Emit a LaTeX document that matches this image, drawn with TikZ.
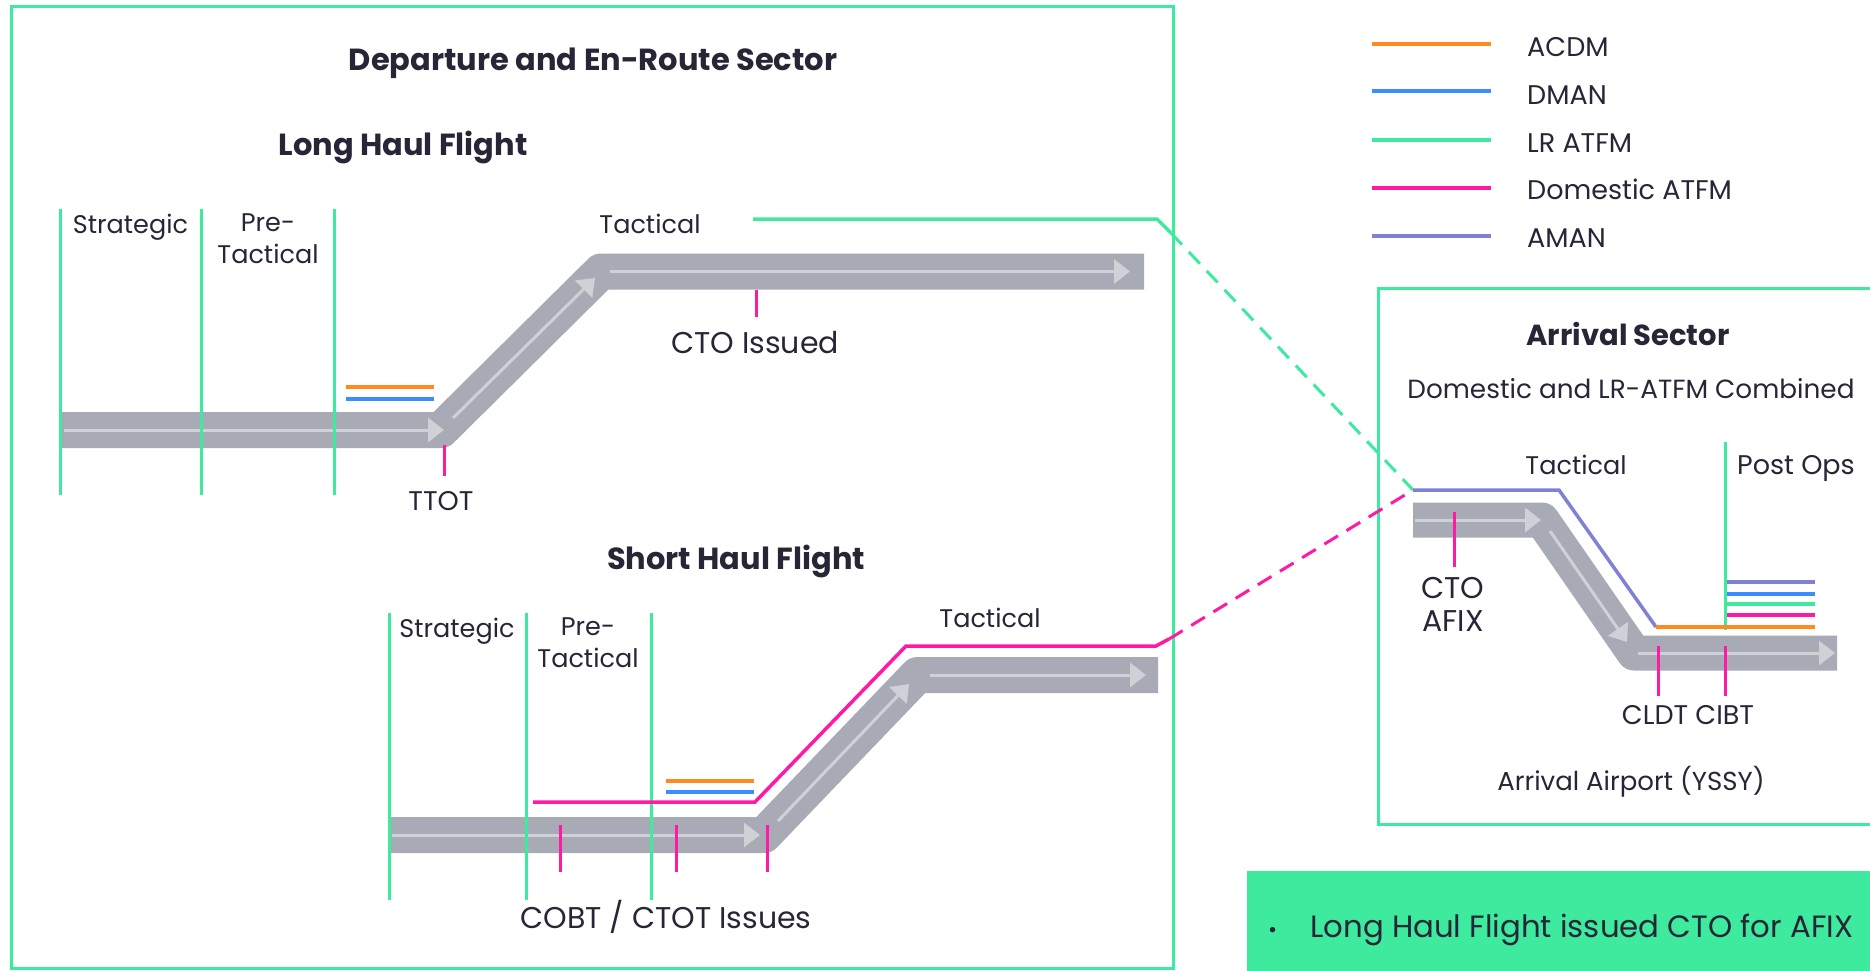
\documentclass[tikz,border=0pt]{standalone}
\usepackage{fontspec}
\setmainfont{Poppins}
\usetikzlibrary{arrows.meta}
\definecolor{mint}{HTML}{3EEB9E}
\definecolor{ink}{HTML}{262637}
\definecolor{bandgray}{HTML}{A8AAB5}
\definecolor{flowgray}{HTML}{D0D1D7}
\definecolor{acdm}{HTML}{FF8A1F}
\definecolor{dman}{HTML}{3A8DFF}
\definecolor{dom}{HTML}{FF1AA6}
\definecolor{aman}{HTML}{7F80D6}
\tikzset{
  txt/.style={text=ink, inner sep=0pt, anchor=base, font=\fontsize{27}{32}\selectfont},
  phtxt/.style={txt, font=\fontsize{25.5}{32}\selectfont},
  bigtxt/.style={txt, font=\fontsize{30}{33}\selectfont},
  ttl/.style={txt, font=\fontsize{30.5}{34}\selectfont\bfseries},
  legtxt/.style={txt, anchor=base west, font=\fontsize{27}{30}\selectfont},
  twoline/.style={phtxt, anchor=north, align=center},
  frame/.style={draw=mint, line width=3pt},
  phase/.style={draw=mint, line width=3pt},
  band/.style={draw=bandgray, line width=36pt, line join=round},
  flow/.style={draw=flowgray, line width=3pt, -{Triangle[length=16pt,width=24pt]}},
  tick/.style={draw=dom, line width=3pt},
  sysline/.style={line width=3.5pt},
  legline/.style={line width=4pt},
  link/.style={line width=3pt, dash pattern=on 16pt off 10pt},
}
\begin{document}
\begin{tikzpicture}[x=1pt,y=-1pt]
\useasboundingbox (0,0) rectangle (1870,970);
\clip (0,0) rectangle (1870,970);

% ---------- frames ----------
\draw[frame] (11,6) rectangle (1173,968);
\draw[frame] (1378,288) rectangle (1890,824);
\fill[mint] (1247,871) rectangle (1890,990);

% ---------- titles ----------
\node[ttl] (tdep) at (593,70) {Departure and En-Route Sector};
\node[ttl] (tlong) at (403,155) {Long Haul Flight};
\node[ttl] (tshort) at (736,569) {Short Haul Flight};
\node[ttl, font=\fontsize{29}{34}\selectfont\bfseries] (tarr) at (1628,345) {Arrival Sector};
\node[txt, font=\fontsize{26.3}{32}\selectfont] (tcomb) at (1631,398.5) {Domestic and LR-ATFM Combined};

% ---------- long haul ----------
\coordinate (L0) at (60,430);
\coordinate (L1) at (441,430);
\coordinate (L2) at (601,271.5);
\coordinate (L3) at (1144,271.5);
\draw[band] (L0) -- (L1) -- (L2) -- (L3);
\draw[flow] (64,430) -- (444,430);
\draw[flow] (453,418) -- (595,278);
\draw[flow] (610,271.5) -- (1130,271.5);

\draw[phase] (60,209) -- (60,495);
\draw[phase] (201,209) -- (201,495);
\draw[phase] (334,209) -- (334,495);
\node[phtxt] (ls) at (130.5,233) {Strategic};
\node[twoline] (lp) at (268,213.5) {Pre-\\Tactical};
\node[phtxt] (lt) at (650,233) {Tactical};

\draw[sysline, acdm] (346,387) -- (434,387);
\draw[sysline, dman] (346,399) -- (434,399);

\coordinate (ttotA) at (444,445);
\coordinate (ttotB) at (444,476);
\draw[tick] (ttotA) -- (ttotB);
\node[txt] (ttot) at (441,510) {TTOT};
\coordinate (ctoA) at (756,290);
\coordinate (ctoB) at (756,317);
\draw[tick] (ctoA) -- (ctoB);
\node[bigtxt] (ctoi) at (755,353.5) {CTO Issued};

% LR ATFM link
\coordinate (G0) at (753,219);
\coordinate (G1) at (1157,219);
\coordinate (G2) at (1171,233);
\coordinate (A0) at (1413,490);
\draw[sysline, mint] (G0) -- (G1) -- (G2);
\draw[link, mint] (G2) -- (A0);

% ---------- short haul ----------
\coordinate (S0) at (389,835);
\coordinate (S1) at (764,835);
\coordinate (S2) at (917.5,675);
\coordinate (S3) at (1158,675);
\draw[band] (S0) -- (S1) -- (S2) -- (S3);
\draw[flow] (392,835) -- (760,835);
\draw[flow] (778,821) -- (909,684);
\draw[flow] (930,675) -- (1146,675);

\draw[phase] (389,613) -- (389,900);
\draw[phase] (526,613) -- (526,900);
\draw[phase] (651,613) -- (651,900);
\node[phtxt] (ss) at (457,637) {Strategic};
\node[twoline] (sp) at (588,617.5) {Pre-\\Tactical};
\node[phtxt] (st) at (990,627) {Tactical};

\draw[sysline, acdm] (666,781) -- (754,781);
\draw[sysline, dman] (666,792) -- (754,792);

\coordinate (P0) at (533,802);
\coordinate (P1) at (755,802);
\coordinate (P2) at (906,646);
\coordinate (P3) at (1156,646);
\coordinate (P4) at (1169,639);
\draw[sysline, dom] (P0) -- (P1) -- (P2) -- (P3) -- (P4);
\draw[link, dom] (P4) -- (A0);

\draw[tick] (560,825) -- (560,872);
\draw[tick] (676,825) -- (676,872);
\draw[tick] (767,825) -- (767,872);
\node[bigtxt] (cobt) at (666,928.5) {COBT / CTOT Issues};

% ---------- arrival ----------
\coordinate (R0) at (1413,520);
\coordinate (R1) at (1542,520);
\coordinate (R2) at (1634,653);
\coordinate (R3) at (1837,653);
\draw[band, line width=35pt] (R0) -- (R1) -- (R2) -- (R3);
\draw[flow] (1415,520) -- (1541,520);
\draw[flow] (1550,531) -- (1627,642);
\draw[flow] (1638,653) -- (1835,653);

\node[phtxt] (at) at (1576,474.5) {Tactical};
\node[txt] (ap) at (1796,474.5) {Post Ops};
\draw[phase] (1725,442) -- (1725,630);

\coordinate (M1) at (1559,490);
\coordinate (M2) at (1656,627);
\draw[sysline, aman] (A0) -- (M1) -- (M2);
\draw[sysline, acdm] (M2) -- (1815,627);
\draw[sysline, aman] (1727,582) -- (1815,582);
\draw[sysline, dman] (1727,594) -- (1815,594);
\draw[sysline, mint] (1727,604) -- (1815,604);
\draw[sysline, dom] (1727,615) -- (1815,615);

\draw[tick] (1454,512) -- (1454,567);
\draw[tick] (1658,646) -- (1658,696);
\draw[tick] (1725,646) -- (1725,696);
\node[twoline, font=\fontsize{30}{33}\selectfont] (afix) at (1453,577.5) {CTO\\AFIX};
\node[txt] (cldt) at (1688,724) {CLDT CIBT};
\node[txt, font=\fontsize{26}{32}\selectfont] (ayssy) at (1631,790) {Arrival Airport (YSSY)};

% ---------- legend ----------
\draw[legline, acdm] (1372,44) -- (1491,44);
\draw[legline, dman] (1372,91) -- (1491,91);
\draw[legline, mint] (1372,140) -- (1491,140);
\draw[legline, dom] (1372,188) -- (1491,188);
\draw[legline, aman] (1372,236) -- (1491,236);
\node[legtxt] (k1) at (1527,56.5) {ACDM};
\node[legtxt] (k2) at (1527,104.5) {DMAN};
\node[legtxt] (k3) at (1527,152.5) {LR ATFM};
\node[legtxt] (k4) at (1527,199.5) {Domestic ATFM};
\node[legtxt] (k5) at (1527,247.5) {AMAN};

% ---------- note ----------
\node[txt, anchor=base west, font=\fontsize{30.8}{33}\selectfont] (note) at (1268,937.5)
  {{\fontsize{22}{22}\selectfont\textbullet}\hspace{33pt}Long Haul Flight issued CTO for AFIX};
\end{tikzpicture}
\end{document}
